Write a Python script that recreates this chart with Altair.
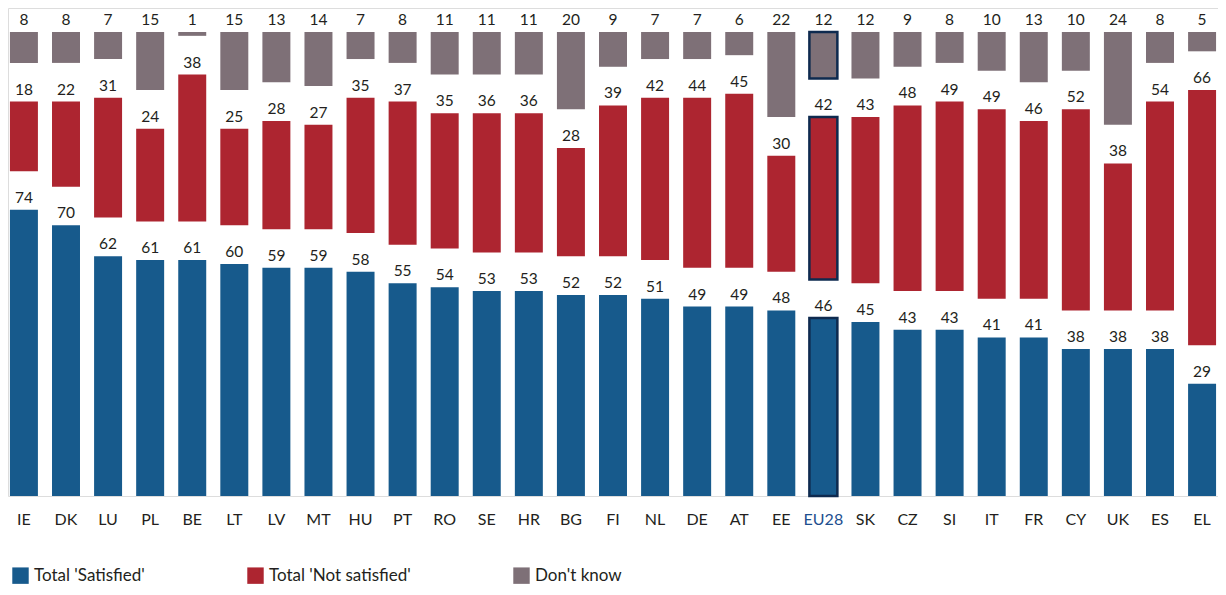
import altair as alt
import pandas as pd

countries = ["IE", "DK", "LU", "PL", "BE", "LT", "LV", "MT", "HU", "PT", "RO", "SE", "HR", "BG",
             "FI", "NL", "DE", "AT", "EE", "EU28", "SK", "CZ", "SI", "IT", "FR", "CY", "UK", "ES", "EL"]
satisfied = [74, 70, 62, 61, 61, 60, 59, 59, 58, 55, 54, 53, 53, 52,
             52, 51, 49, 49, 48, 46, 45, 43, 43, 41, 41, 38, 38, 38, 29]
not_satisfied = [18, 22, 31, 24, 38, 25, 28, 27, 35, 37, 35, 36, 36, 28,
                 39, 42, 44, 45, 30, 42, 43, 48, 49, 49, 46, 52, 38, 54, 66]
dont_know = [8, 8, 7, 15, 1, 15, 13, 14, 7, 8, 11, 11, 11, 20,
             9, 7, 7, 6, 22, 12, 12, 9, 8, 10, 13, 10, 24, 8, 5]

categories = ["Total 'Satisfied'", "Total 'Not satisfied'", "Don't know"]
colors = ["#175a8c", "#ad2530", "#7e7077"]

GAP = 10  # vertical separation between stacked segments (in value units)

rows = []
for i, c in enumerate(countries):
    s, n, d = satisfied[i], not_satisfied[i], dont_know[i]
    segs = [(categories[0], s, 0, s),
            (categories[1], n, s + GAP, s + GAP + n),
            (categories[2], d, s + n + 2 * GAP, s + n + d + 2 * GAP)]
    for cat, v, a, b in segs:
        rows.append({"country": c, "category": cat, "value": v, "start": a, "end": b})
df = pd.DataFrame(rows)

FONT = "Lato"
TEXT_COLOR = "#231f20"

x_enc = alt.X(
    "country:N", sort=countries,
    scale=alt.Scale(paddingInner=0.335, paddingOuter=0.046),
    axis=alt.Axis(title=None, domain=False, ticks=False, labelAngle=0,
                  labelFontSize=16, labelPadding=15, labelFont=FONT,
                  labelColor={"condition": {"test": "datum.value === 'EU28'", "value": "#1d4f8f"},
                              "value": TEXT_COLOR}),
)
y_scale = alt.Scale(domain=[0, 126.2], nice=False, zero=True)

base = alt.Chart(df)

bars = base.mark_bar(cornerRadius=0).encode(
    x=x_enc,
    y=alt.Y("start:Q", scale=y_scale, axis=None),
    y2="end:Q",
    color=alt.Color("category:N",
                    scale=alt.Scale(domain=categories, range=colors),
                    sort=categories,
                    legend=alt.Legend(title=None, orient="none", legendX=4, legendY=559,
                                      direction="horizontal", columns=3, columnPadding=102,
                                      symbolType="square", symbolSize=270, symbolStrokeWidth=0,
                                      labelFontSize=17, labelFont=FONT, labelColor=TEXT_COLOR,
                                      labelOffset=5, padding=0)),
    stroke=alt.condition(alt.datum.country == "EU28", alt.value("#0e2a4f"), alt.value("transparent")),
    strokeWidth=alt.condition(alt.datum.country == "EU28", alt.value(2.5), alt.value(0)),
)

labels = base.mark_text(baseline="alphabetic", dy=-7, fontSize=15.5, font=FONT,
                        color=TEXT_COLOR).encode(
    x=alt.X("country:N", sort=countries),
    y=alt.Y("end:Q", scale=y_scale),
    text="value:Q",
)

chart = alt.layer(bars, labels).properties(
    width=1210, height=488, padding={"left": 0, "right": 0, "top": 0, "bottom": 0}
).configure_view(stroke=None).configure(background="white")

chart.save("out.html", embed_options={"renderer": "svg", "actions": False})
